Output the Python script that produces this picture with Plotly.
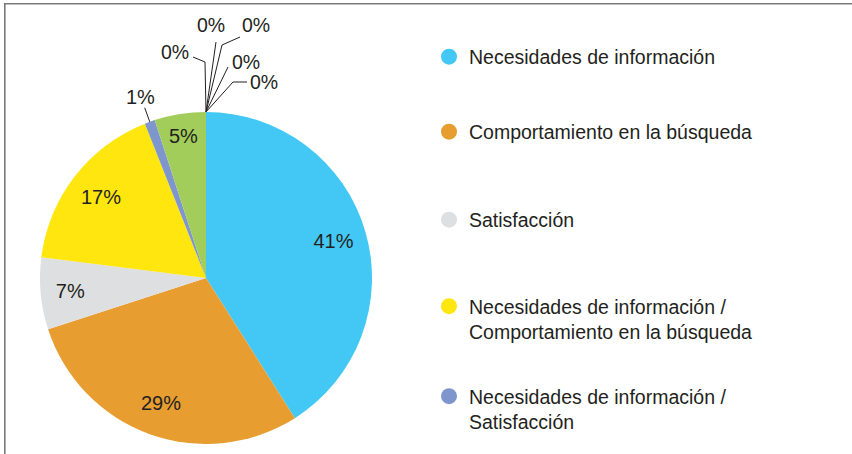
import math
import plotly.graph_objects as go

W, H = 852, 454

categories = [
    "Necesidades de información",
    "Comportamiento en la búsqueda",
    "Satisfacción",
    "Necesidades de información /<br>Comportamiento en la búsqueda",
    "Necesidades de información /<br>Satisfacción",
    "Comportamiento en la búsqueda /<br>Satisfacción",
    "Otros 1", "Otros 2", "Otros 3", "Otros 4", "Otros 5",
]
values = [41, 29, 7, 17, 1, 5, 0, 0, 0, 0, 0]
colors = ["#43C8F5", "#E89D31", "#DEDFE1", "#FFE60F", "#7F96CC", "#A2CD5A",
          "#A0A0A0", "#A0A0A0", "#A0A0A0", "#A0A0A0", "#A0A0A0"]
legend_count = 5

FONT = "Liberation Sans, Arial, Helvetica, sans-serif"
TXT = "#231F20"

# pie placement in pixels
CX, CY, R = 206, 278, 166

def px(x):
    return x / W

def py(y):
    return 1 - y / H

def polar(frac, r):
    """pixel point at fraction `frac` of the circle (clockwise from top), radius r"""
    a = 2 * math.pi * frac
    return CX + r * math.sin(a), CY - r * math.cos(a)

total = sum(values)
dom = dict(x=[px(CX - R), px(CX + R)], y=[py(CY + R), py(CY - R)])

fig = go.Figure()

# colored pie (no text)
fig.add_trace(go.Pie(
    labels=categories, values=values, sort=False,
    direction="clockwise", rotation=0,
    marker=dict(colors=colors, line=dict(width=0)),
    textinfo="none", domain=dom, showlegend=False,
    hoverinfo="label+percent",
))

# transparent ring overlay only carrying the inside labels (places them near 0.8R)
inside_text = [f"{v}%" if v >= 3 else "" for v in values]
fig.add_trace(go.Pie(
    labels=categories, values=values, sort=False,
    direction="clockwise", rotation=0, hole=0.6,
    marker=dict(colors=["rgba(0,0,0,0)"] * len(values), line=dict(width=0)),
    text=inside_text, textinfo="text", textposition="inside",
    insidetextorientation="horizontal",
    textfont=dict(family=FONT, size=20, color=TXT),
    domain=dom, showlegend=False, hoverinfo="skip",
))

# legend entries (separate legends for exact placement)
legend_mid_y = [57, 132, 220, 319, 409]
layout_legends = {}
for i in range(legend_count):
    name = "legend" if i == 0 else f"legend{i+1}"
    fig.add_trace(go.Scatter(
        x=[None], y=[None], mode="markers",
        marker=dict(size=17, color=colors[i], symbol="circle"),
        name=categories[i], legend=name, showlegend=True, hoverinfo="skip",
    ))
    layout_legends[name] = dict(
        x=px(429), xanchor="left", y=py(legend_mid_y[i]), yanchor="middle",
        bgcolor="rgba(0,0,0,0)", borderwidth=0, valign="top",
        font=dict(family=FONT, size=19.5, color=TXT),
    )

annotations = []
shapes = []

# small slices (non-zero) : outside label with a leader line
cum = 0
for v in values:
    if 0 < v < 3:
        mid = (cum + v / 2) / total
        x0, y0 = polar(mid, R)
        x1, y1 = polar(mid, R * 1.09)
        lx, ly = polar(mid, R * 1.16)
        shapes.append(dict(type="line", xref="paper", yref="paper",
                           x0=px(x0), y0=py(y0), x1=px(x1), y1=py(y1),
                           line=dict(color=TXT, width=1)))
        annotations.append(dict(
            x=px(lx), y=py(ly), xref="paper", yref="paper", text=f"{v}%",
            showarrow=False, font=dict(family=FONT, size=20, color=TXT),
            xanchor="center", yanchor="middle"))
    cum += v

# 0% labels with leader lines from the top of the pie
apex = polar(1.0, R)
zero_labels = [
    ((175, 52), [(193, 57), (205, 62)]),
    ((211, 25), [(216, 42)]),
    ((256, 25), [(240, 37), (222, 45)]),
    ((246, 62), [(228, 67)]),
    ((264, 82), [(247, 82), (233, 82)]),
]
zero_vals = [v for v in values if v == 0]
for v, ((cx, cy), pts) in zip(zero_vals, zero_labels):
    annotations.append(dict(
        x=px(cx), y=py(cy), xref="paper", yref="paper", text=f"{v}%",
        showarrow=False, font=dict(family=FONT, size=19.5, color=TXT),
        xanchor="center", yanchor="middle",
    ))
    path_pts = pts + [apex]
    d = "M " + " L ".join(f"{px(x)},{py(y)}" for x, y in path_pts)
    shapes.append(dict(type="path", path=d, xref="paper", yref="paper",
                       line=dict(color=TXT, width=1)))

# frame lines (top and left)
shapes.append(dict(type="line", xref="paper", yref="paper",
                   x0=px(4), x1=1, y0=py(3.8), y1=py(3.8),
                   line=dict(color="#7A7A7A", width=1.6)))
shapes.append(dict(type="line", xref="paper", yref="paper",
                   x0=px(4.8), x1=px(4.8), y0=py(3), y1=0,
                   line=dict(color="#7A7A7A", width=1.6)))

fig.update_layout(
    width=W, height=H,
    margin=dict(l=0, r=0, t=0, b=0),
    paper_bgcolor="white", plot_bgcolor="white",
    xaxis=dict(visible=False), yaxis=dict(visible=False),
    annotations=annotations, shapes=shapes,
    font=dict(family=FONT, color=TXT),
    **layout_legends,
)

fig.write_html("out.html", config={"displayModeBar": False},
               post_script="document.body.style.margin='0px';")
